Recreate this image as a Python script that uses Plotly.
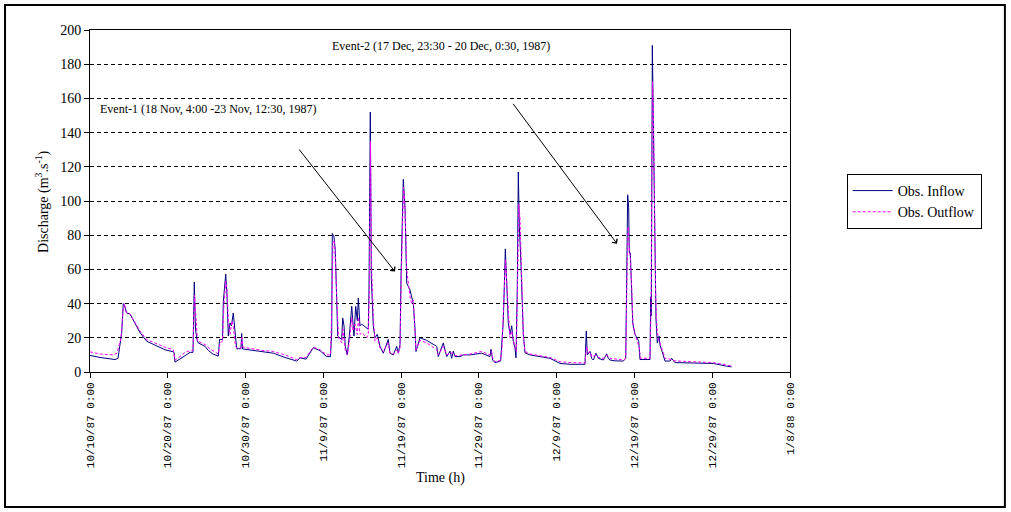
import pandas as pd
import plotly.graph_objects as go

BASE = pd.Timestamp("1987-10-10 00:00")

# Observed inflow: days since 10/10/87 0:00 and discharge (m3/s)
inflow_day = [0, 1.29, 3.21, 3.60, 4.08, 4.28, 4.50, 4.72, 5.14, 5.79, 6.43, 7.29, 8.58, 9.64,
              10.71, 10.80, 10.93, 11.57, 12.21, 12.86, 13.24, 13.41, 13.56, 13.76, 13.92, 14.79,
              15.21, 15.81, 16.50, 16.65, 17.04, 17.14, 17.45, 17.61, 17.78, 18.00, 18.19, 18.42,
              18.64, 18.86, 19.41, 19.50, 19.61, 20.15, 21.86, 23.57, 25.07, 26.58, 27.00, 27.77,
              28.71, 29.57, 30.43, 30.92, 31.08, 31.15, 31.37, 31.54, 31.72, 31.85, 32.36, 32.49,
              32.66, 32.82, 33.08, 33.34, 33.65, 33.78, 33.94, 34.16, 34.37, 34.50, 34.71, 34.93,
              35.58, 35.78, 35.87, 36.04, 36.17, 36.42, 36.64, 36.94, 37.29, 37.71, 38.35, 38.57,
              39.00, 39.43, 39.64, 39.86, 39.99, 40.28, 40.50, 40.72, 41.14, 41.36, 41.57, 41.79,
              41.91, 42.43, 43.29, 44.58, 44.78, 45.42, 45.86, 46.29, 46.50, 46.71, 46.93, 47.57,
              48.00, 48.86, 50.36, 51.43, 51.56, 51.77, 52.07, 52.80, 52.93, 53.14, 53.27, 53.40,
              53.49, 53.65, 53.78, 54.00, 54.22, 54.42, 54.64, 54.77, 54.94, 55.07, 55.20, 55.38,
              55.50, 55.71, 55.93, 56.57, 57.86, 59.14, 60.43, 61.71, 63.64, 63.81, 63.94, 64.29,
              64.50, 64.71, 65.06, 65.35, 66.00, 66.43, 66.64, 66.86, 67.50, 68.57, 68.88, 69.00,
              69.13, 69.26, 69.34, 69.47, 69.60, 69.78, 70.07, 70.37, 70.55, 70.71, 72.00, 72.09,
              72.17, 72.30, 72.43, 72.56, 72.64, 72.77, 72.94, 73.16, 73.28, 73.50, 73.71, 73.93,
              74.57, 74.79, 75.21, 77.57, 80.14, 81.86, 82.50]
inflow_q = [9.7, 8.5, 7.3, 8, 23, 40, 38, 34.5, 34, 28.7, 23, 18, 15.4, 13,
            11.8, 11.5, 5.8, 7.5, 9.5, 11.5, 11.5, 52.6, 25, 19, 17, 15,
            12.6, 10.5, 9.3, 19, 19, 41, 57.3, 45, 21, 28.7, 27, 34.5,
            22, 13.6, 13.6, 22.5, 13.5, 13.2, 12, 11, 8.5, 6.4, 8.3, 7.5,
            14.2, 12.5, 9, 9, 23, 81, 79, 71, 42, 21, 19, 31.6,
            27, 15, 10, 21, 38.4, 27, 21, 38.4, 30, 43.3, 27, 28,
            25.8, 25, 48, 152, 55, 27, 20, 22, 15, 11, 19, 11,
            10, 15, 11, 16, 56, 112.7, 96, 52, 48, 44, 40, 25,
            12, 20, 18.5, 15, 9, 17, 9, 12.2, 8, 12.2, 9, 9,
            10, 10, 11, 9, 13.3, 7, 5.4, 6.5, 15.6, 30, 50, 72,
            62, 40, 28.7, 22, 27, 18, 14, 8.3, 50, 117, 85, 67,
            45, 22, 11.2, 10, 9, 8, 5, 4.5, 4.5, 24, 10, 12,
            8, 7, 11, 8, 7, 10.6, 8, 7, 6.5, 6.4, 8, 65.6,
            103.6, 96, 69.6, 69.6, 52, 28.7, 22, 19, 18, 7.3, 7.3, 44,
            33, 191, 140, 118, 52, 31, 17, 21, 16, 13, 9, 6.4,
            6.4, 8, 5.5, 5.3, 5, 3.4, 3]

# Observed outflow
outflow_day = [0, 1.29, 2.96, 3.47, 3.99, 4.28, 4.44, 4.63, 5.14, 5.79, 6.43, 7.29, 8.58, 9.64,
               10.71, 10.93, 11.57, 12.21, 12.86, 13.24, 13.44, 13.63, 13.82, 14.14, 14.79, 15.43,
               16.50, 16.71, 17.04, 17.23, 17.45, 17.61, 17.81, 18.00, 18.26, 18.45, 18.71, 18.90,
               19.41, 19.52, 19.67, 20.15, 21.86, 23.57, 25.07, 26.58, 27.00, 27.77, 28.71, 29.57,
               30.43, 30.92, 31.11, 31.24, 31.44, 31.63, 31.82, 31.95, 32.36, 32.53, 32.82, 33.08,
               33.36, 33.65, 33.81, 34.07, 34.37, 34.52, 34.71, 34.97, 35.58, 35.78, 35.94, 36.06,
               36.22, 36.45, 36.64, 36.94, 37.29, 37.71, 38.35, 38.57, 39.00, 39.43, 39.64, 39.86,
               40.05, 40.31, 40.50, 40.72, 41.14, 41.36, 41.57, 41.79, 41.91, 42.43, 43.29, 44.58,
               44.78, 45.42, 45.86, 46.29, 46.71, 46.93, 48.86, 50.36, 51.43, 51.62, 51.81, 52.07,
               52.80, 52.97, 53.23, 53.42, 53.61, 53.81, 54.00, 54.22, 54.42, 54.64, 54.83, 54.99,
               55.13, 55.29, 55.41, 55.54, 55.73, 55.93, 56.57, 57.86, 59.14, 60.43, 61.71, 63.64,
               63.84, 64.03, 64.29, 64.54, 65.06, 65.35, 66.00, 66.43, 66.86, 68.57, 68.88, 69.04,
               69.20, 69.30, 69.49, 69.65, 69.81, 70.07, 70.39, 70.59, 70.78, 72.00, 72.13, 72.32,
               72.45, 72.58, 72.71, 72.90, 73.09, 73.28, 73.54, 73.93, 74.57, 75.21, 77.57, 80.14,
               81.86, 82.50]
outflow_q = [11.8, 10.5, 10, 11, 20, 38, 40, 35, 34, 29, 24, 19, 16.5, 14.5,
             13, 7, 9, 11.5, 12.5, 12.5, 45, 28, 18, 17.5, 16, 13.5,
             10.5, 17, 18, 40, 53, 48, 28, 22, 30, 26, 15, 14,
             14, 20, 14.5, 14.2, 12.8, 12, 10, 7.2, 8.5, 8.5, 14.5, 13,
             10, 10, 40, 76, 77, 55, 30, 20, 17, 25, 13, 10,
             18, 32, 24, 28, 22, 32, 22, 23, 20, 22, 50, 135,
             60, 30, 18, 20, 14, 12, 17, 11, 10.5, 13, 11, 14,
             60, 108, 98, 60, 44, 40, 42, 22, 13, 18.5, 17, 13,
             10, 15, 10, 11, 11, 9.5, 10.5, 12, 10, 12, 8, 6,
             7, 14, 40, 66, 50, 32, 20, 24, 18, 14, 12, 60,
             98, 90, 70, 45, 20, 12, 10.5, 9.5, 8.5, 6, 5.5, 5.3,
             15, 11, 12, 9, 10, 8.5, 8, 10, 8, 7, 8, 55,
             85, 75, 65, 50, 28, 22, 18, 15, 8, 8, 35, 170,
             150, 95, 48, 25, 19, 17, 13, 8, 7.5, 6.5, 6, 5.5,
             4, 3.5]

y_ticks = [0, 20, 40, 60, 80, 100, 120, 140, 160, 180, 200]

inflow_t = BASE + pd.to_timedelta(inflow_day, unit="D")
outflow_t = BASE + pd.to_timedelta(outflow_day, unit="D")

SERIF = "Liberation Serif, Times New Roman, serif"

fig = go.Figure()
fig.add_trace(go.Scatter(x=inflow_t, y=inflow_q, mode="lines", name="Obs. Inflow",
                         line=dict(color="#000080", width=1)))
fig.add_trace(go.Scatter(x=outflow_t, y=outflow_q, mode="lines", name="Obs. Outflow",
                         line=dict(color="#FF00FF", width=1, dash="3px,2px")))

def d(days):
    return BASE + pd.Timedelta(days=days)

annotations = [
    dict(text="Event-2 (17 Dec, 23:30 - 20 Dec, 0:30, 1987)", xref="paper", yref="paper",
         x=0.501, y=0.953, showarrow=False, xanchor="center", yanchor="middle",
         font=dict(family=SERIF, size=12, color="black")),
    dict(text="Event-1 (18 Nov, 4:00 -23 Nov, 12:30, 1987)", xref="paper", yref="paper",
         x=0.0114, y=0.769, showarrow=False, xanchor="left", yanchor="middle",
         font=dict(family=SERIF, size=12, color="black")),
    dict(text="", x=d(39.21), y=58.7, ax=d(26.74), ay=131, xref="x", yref="y",
         axref="x", ayref="y", showarrow=True, arrowhead=4, arrowsize=1.2,
         arrowwidth=1, arrowcolor="black", standoff=0, startstandoff=0),
    dict(text="", x=d(67.76), y=75, ax=d(54.26), ay=157.7, xref="x", yref="y",
         axref="x", ayref="y", showarrow=True, arrowhead=4, arrowsize=1.2,
         arrowwidth=1, arrowcolor="black", standoff=0, startstandoff=0),
    dict(text="Discharge (m<sup>3</sup>.s<sup>-1</sup>)", xref="paper", yref="paper",
         x=-0.0686, y=0.5, textangle=-90, showarrow=False, xanchor="center", yanchor="middle",
         font=dict(family=SERIF, size=14, color="black")),
    dict(text="Time (h)", xref="paper", yref="paper", x=0.5, y=-0.31, showarrow=False,
         xanchor="center", yanchor="middle", font=dict(family=SERIF, size=14, color="black")),
]

fig.update_layout(
    width=1011, height=512, autosize=False,
    margin=dict(l=90, r=221, t=30, b=140, pad=0),
    paper_bgcolor="white", plot_bgcolor="white",
    showlegend=True,
    legend=dict(x=1.081, y=0.579, xanchor="left", yanchor="top",
                bgcolor="white", bordercolor="black", borderwidth=1,
                font=dict(family=SERIF, size=14, color="black"),
                tracegroupgap=0, itemwidth=40),
    annotations=annotations,
    shapes=[dict(type="rect", xref="paper", yref="paper",
                 x0=-0.1214, x1=1.307, y0=-0.3947, y1=1.073,
                 line=dict(color="black", width=2), fillcolor="rgba(0,0,0,0)", layer="below")],
    xaxis=dict(type="date", range=[BASE, BASE + pd.Timedelta(days=90)],
               tick0=BASE, dtick=86400000 * 10, tickformat="%-m/%-d/%y %-H:%M",
               tickangle=-90, ticks="outside", ticklen=5, tickcolor="black",
               showline=True, linecolor="black", linewidth=1, mirror=True,
               showgrid=False, zeroline=False,
               tickfont=dict(family="Liberation Mono, monospace", size=11, color="black")),
    yaxis=dict(range=[0, 200], tickvals=y_ticks, ticks="outside", ticklen=5,
               tickcolor="black", showline=True, linecolor="black", linewidth=1, mirror=True,
               showgrid=True, gridcolor="black", gridwidth=1, griddash="4px,3px",
               zeroline=False,
               tickfont=dict(family=SERIF, size=14, color="black")),
)

fig.write_html("out.html")
